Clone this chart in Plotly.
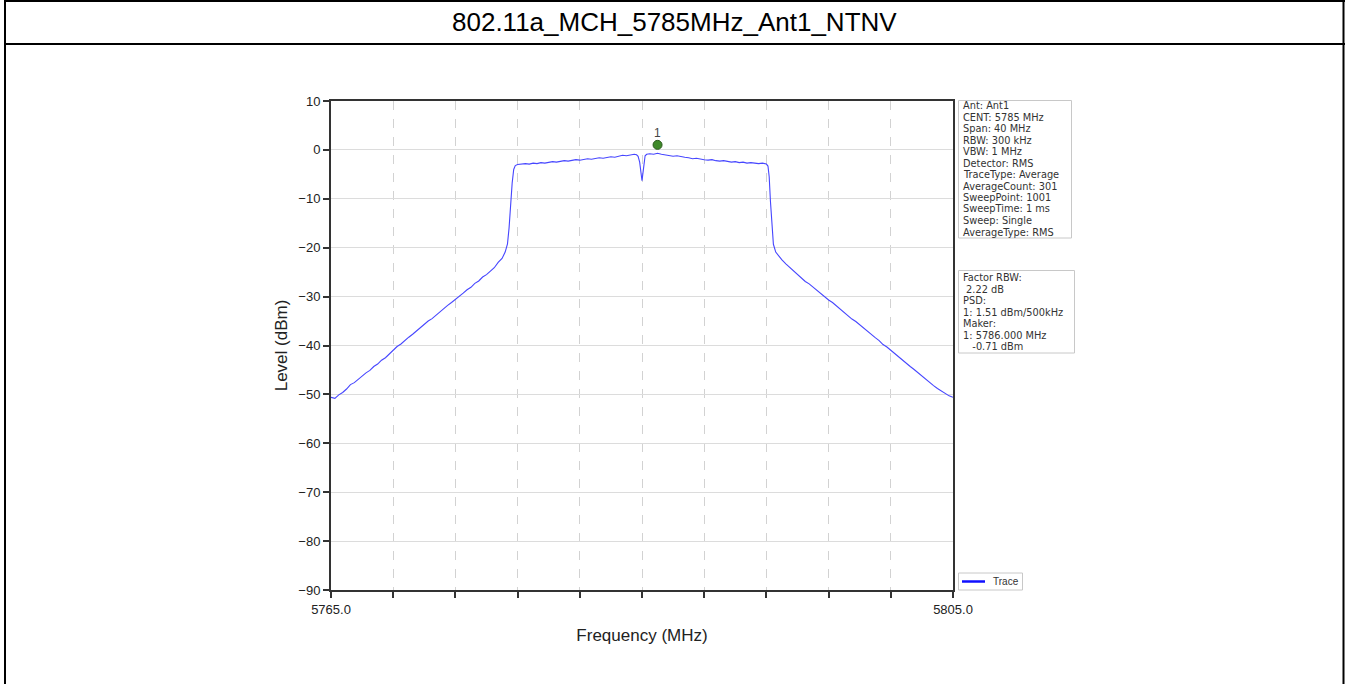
import plotly.graph_objects as go

# ---- Spectrum trace (MHz, dBm) ----
freq_mhz = [
    5765.00, 5765.25, 5765.50, 5765.75, 5766.00, 5766.25, 5766.50, 5766.75,
    5767.00, 5767.25, 5767.50, 5767.75, 5768.00, 5768.25, 5768.50, 5768.75,
    5769.00, 5769.25, 5769.50, 5769.75, 5770.00, 5770.25, 5770.50, 5770.75,
    5771.00, 5771.25, 5771.50, 5771.75, 5772.00, 5772.25, 5772.50, 5772.75,
    5773.00, 5773.25, 5773.50, 5773.75, 5774.00, 5774.25, 5774.50, 5774.75,
    5775.00, 5775.25, 5775.50, 5775.75, 5776.00, 5776.20, 5776.35, 5776.45,
    5776.55, 5776.65, 5776.75, 5776.85,
    5777.00, 5777.25, 5777.50, 5777.75, 5778.00, 5778.25, 5778.50, 5778.75,
    5779.00, 5779.25, 5779.50, 5779.75, 5780.00, 5780.25, 5780.50, 5780.75,
    5781.00, 5781.25, 5781.50, 5781.75, 5782.00, 5782.25, 5782.50, 5782.75,
    5783.00, 5783.25, 5783.50, 5783.75, 5784.00, 5784.25, 5784.50, 5784.65,
    5784.75, 5784.85, 5784.95, 5785.00, 5785.05, 5785.12, 5785.20, 5785.30,
    5785.50, 5785.75, 5786.00, 5786.25, 5786.50, 5786.75, 5787.00, 5787.25,
    5787.50, 5787.75, 5788.00, 5788.25, 5788.50, 5788.75, 5789.00, 5789.25,
    5789.50, 5789.75, 5790.00, 5790.25, 5790.50, 5790.75, 5791.00, 5791.25,
    5791.50, 5791.75, 5792.00, 5792.25, 5792.50, 5792.75, 5793.00, 5793.10,
    5793.18, 5793.26, 5793.35, 5793.45, 5793.60, 5793.80,
    5794.00, 5794.25, 5794.50, 5794.75, 5795.00, 5795.25, 5795.50, 5795.75,
    5796.00, 5796.25, 5796.50, 5796.75, 5797.00, 5797.25, 5797.50, 5797.75,
    5798.00, 5798.25, 5798.50, 5798.75, 5799.00, 5799.25, 5799.50, 5799.75,
    5800.00, 5800.25, 5800.50, 5800.75, 5801.00, 5801.25, 5801.50, 5801.75,
    5802.00, 5802.25, 5802.50, 5802.75, 5803.00, 5803.25, 5803.50, 5803.75,
    5804.00, 5804.25, 5804.50, 5804.75, 5805.00,
]
level_dbm = [
    -50.6, -50.8, -50.1, -49.6, -48.9, -48.0, -47.6, -46.9,
    -46.2, -45.6, -45.1, -44.3, -43.8, -43.0, -42.5, -41.7,
    -41.1, -40.2, -39.7, -38.9, -38.3, -37.7, -37.0, -36.4,
    -35.7, -35.0, -34.5, -33.8, -33.1, -32.6, -31.8, -31.2,
    -30.6, -29.9, -29.3, -28.6, -28.1, -27.3, -26.8, -26.0,
    -25.5, -24.8, -24.1, -23.0, -22.2, -20.9, -19.2, -16.0,
    -11.0, -6.8, -4.0, -3.2,
    -3.0, -2.9, -2.8, -2.9, -2.7, -2.8, -2.6, -2.7,
    -2.5, -2.4, -2.5, -2.3, -2.2, -2.3, -2.1, -2.0,
    -2.1, -1.9, -1.8, -1.9, -1.7, -1.6, -1.7, -1.5,
    -1.4, -1.5, -1.3, -1.1, -1.2, -1.0, -0.9, -1.0,
    -1.3, -2.5, -5.2, -6.3, -5.0, -2.6, -1.2, -0.9,
    -0.8, -0.9, -0.7, -0.9, -1.0, -1.1, -1.3, -1.2,
    -1.4, -1.5, -1.6, -1.8, -1.7, -1.9, -2.0, -2.1,
    -2.0, -2.2, -2.3, -2.2, -2.4, -2.5, -2.4, -2.6,
    -2.5, -2.7, -2.6, -2.7, -2.8, -2.7, -2.9, -3.3,
    -5.5, -10.5, -15.8, -19.3, -20.9, -21.8,
    -22.5, -23.3, -24.0, -24.9, -25.5, -26.1, -26.9, -27.4,
    -28.1, -28.8, -29.4, -30.0, -30.7, -31.2, -31.9, -32.5,
    -33.2, -33.8, -34.6, -35.1, -35.8, -36.5, -37.1, -37.8,
    -38.4, -39.0, -39.8, -40.3, -41.0, -41.7, -42.3, -43.0,
    -43.6, -44.3, -44.9, -45.6, -46.2, -46.9, -47.5, -48.2,
    -48.8, -49.3, -49.9, -50.3, -50.6,
]

# ---- Marker 1 ----
marker_freq = [5786.0]
marker_level = [-0.71]
marker_name = ["1"]

# ---- Axis ticks ----
x_tick_vals = [5765, 5769, 5773, 5777, 5781, 5785, 5789, 5793, 5797, 5801, 5805]
x_tick_text = ["5765.0", "", "", "", "", "", "", "", "", "", "5805.0"]
y_tick_vals = [10, 0, -10, -20, -30, -40, -50, -60, -70, -80, -90]

# ---- Text ----
title_text = "802.11a_MCH_5785MHz_Ant1_NTNV"
legend_name = "Trace"
setting_lines = [
    "Ant: Ant1", "CENT: 5785 MHz", "Span: 40 MHz", "RBW: 300 kHz", "VBW: 1 MHz",
    "Detector: RMS", "TraceType: Average", "AverageCount: 301",
    "SweepPoint: 1001", "SweepTime: 1 ms", "Sweep: Single", "AverageType: RMS",
]
result_lines = [
    "Factor RBW:", "\u00a02.22 dB", "PSD:", "1: 1.51 dBm/500kHz",
    "Maker:", "1: 5786.000 MHz", "\u00a0\u00a0\u00a0-0.71 dBm",
]

FONT = "Liberation Sans, Arial, sans-serif"
BOX_FONT = "DejaVu Sans, sans-serif"
TRACE_BLUE = "#4646ff"
W, H = 1348, 684
ML, MR, MT, MB = 331, 395, 101, 94
PW, PH = W - ML - MR, H - MT - MB


def px(x):
    return (x - ML) / PW


def py(y):
    return (H - MB - y) / PH


fig = go.Figure()
fig.add_trace(go.Scatter(
    x=freq_mhz, y=level_dbm, mode="lines", name=legend_name, showlegend=False,
    line=dict(color=TRACE_BLUE, width=1.1), hoverinfo="skip",
))

shapes = []
# page frame (table borders)
frame = dict(type="line", xref="paper", yref="paper", line=dict(color="black", width=2))
shapes.append({**frame, "x0": px(4), "x1": px(1345), "y0": py(1), "y1": py(1)})
shapes.append({**frame, "x0": px(4), "x1": px(1345), "y0": py(44), "y1": py(44)})
shapes.append({**frame, "x0": px(5), "x1": px(5), "y0": py(0), "y1": py(684)})
shapes.append({**frame, "x0": px(1343.5), "x1": px(1343.5), "y0": py(0), "y1": py(684)})

# info boxes
box = dict(type="rect", xref="paper", yref="paper", fillcolor="white",
           line=dict(color="#c8c8c8", width=1), layer="above")
shapes.append({**box, "x0": px(958.5), "x1": px(1071.5), "y0": py(238), "y1": py(100.5)})
shapes.append({**box, "x0": px(958.5), "x1": px(1074.5), "y0": py(353), "y1": py(270.5)})

# legend box with line sample
shapes.append({**box, "x0": px(958.5), "x1": px(1022.5), "y0": py(590), "y1": py(573)})
shapes.append(dict(type="line", xref="paper", yref="paper",
                   x0=px(962), x1=px(985), y0=py(581.5), y1=py(581.5),
                   line=dict(color="#1010ff", width=2.5), layer="above"))

# marker dot, sitting just above the trace point
shapes.append(dict(
    type="circle", xref="x", yref="y", xsizemode="pixel", ysizemode="pixel",
    xanchor=marker_freq[0], yanchor=marker_level[0],
    x0=-4.5, x1=4.5, y0=4, y1=13,
    fillcolor="#3f8a2a", line=dict(color="#2a5a1c", width=1),
))

annotations = [dict(
    text=title_text, xref="paper", yref="paper", x=px(674), y=py(22.5),
    xanchor="center", yanchor="middle", showarrow=False,
    font=dict(family=FONT, size=26, color="black"),
)]
for i, line in enumerate(setting_lines):
    annotations.append(dict(
        text=line, xref="paper", yref="paper", x=px(961), y=py(105.5 + i * 11.5),
        xanchor="left", yanchor="middle", showarrow=False,
        font=dict(family=BOX_FONT, size=9.8, color="#333333"),
    ))
for i, line in enumerate(result_lines):
    annotations.append(dict(
        text=line, xref="paper", yref="paper", x=px(961), y=py(277.5 + i * 11.5),
        xanchor="left", yanchor="middle", showarrow=False,
        font=dict(family=BOX_FONT, size=9.8, color="#333333"),
    ))
annotations.append(dict(
    text=legend_name, xref="paper", yref="paper", x=px(991), y=py(581.5),
    xanchor="left", yanchor="middle", showarrow=False,
    font=dict(family=FONT, size=10, color="#333333"),
))
annotations.append(dict(
    text=marker_name[0], x=marker_freq[0], y=marker_level[0], xref="x", yref="y",
    yshift=20, showarrow=False, font=dict(family=FONT, size=12, color="#444444"),
))

fig.update_layout(
    width=W, height=H, autosize=False,
    margin=dict(l=ML, r=MR, t=MT, b=MB, pad=0),
    paper_bgcolor="white", plot_bgcolor="white",
    font=dict(family=FONT, color="#222222"),
    shapes=shapes, annotations=annotations, showlegend=False,
    xaxis=dict(
        range=[5765, 5805], tickvals=x_tick_vals, ticktext=x_tick_text,
        ticks="outside", ticklen=6, tickwidth=1.5, tickcolor="#333333",
        showline=True, linewidth=2, linecolor="#333333", mirror=True,
        showgrid=True, gridcolor="#d2d2d2", gridwidth=1, griddash="dash",
        zeroline=False, tickfont=dict(family=FONT, size=13, color="#222222"),
        title=dict(text="Frequency (MHz)", standoff=14,
                   font=dict(family=FONT, size=17, color="#222222")),
    ),
    yaxis=dict(
        range=[-90, 10], tickvals=y_tick_vals,
        ticks="outside", ticklen=6, tickwidth=1.5, tickcolor="#333333",
        showline=True, linewidth=2, linecolor="#333333", mirror=True,
        showgrid=True, gridcolor="#dcdcdc", gridwidth=1,
        zeroline=False, tickfont=dict(family=FONT, size=13, color="#222222"),
        title=dict(text="Level (dBm)", standoff=6,
                   font=dict(family=FONT, size=17, color="#222222")),
    ),
)

fig.write_html("out.html")
